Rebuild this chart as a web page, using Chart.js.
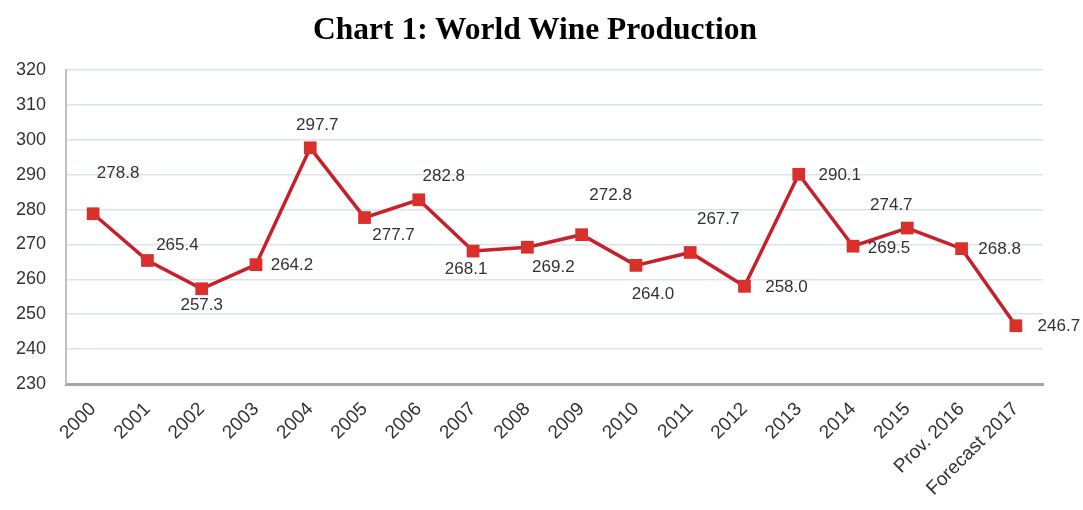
<!DOCTYPE html>
<html>
<head>
<meta charset="utf-8">
<script src="https://cdn.jsdelivr.net/npm/chart.js@4.4.0/dist/chart.umd.min.js"></script>
<style>
  html, body { margin: 0; padding: 0; background: #fff; }
  #wrap { width: 1083px; height: 510px; position: relative; }
  #title {
    position: absolute; left: 0; top: 11px; width: 1070px;
    text-align: center; line-height: 38px;
    font: bold 31.5px "Liberation Serif", "Times New Roman", serif; color: #000;
  }
</style>
</head>
<body>
<div id="wrap">
  <canvas id="wineChart"></canvas>
  <div id="title">Chart 1: World Wine Production</div>
</div>
<script>
// Datos del gráfico
const years = ['2000', '2001', '2002', '2003', '2004', '2005', '2006', '2007', '2008',
    '2009', '2010', '2011', '2012', '2013', '2014', '2015', 'Prov. 2016', 'Forecast 2017'];
const production = [278.8, 265.4, 257.3, 264.2, 297.7, 277.7, 282.8, 268.1, 269.2,
    272.8, 264.0, 267.7, 258.0, 290.1, 269.5, 274.7, 268.8, 246.7];
const yTicks = [230, 240, 250, 260, 270, 280, 290, 300, 310, 320];

// Desplazamiento de cada etiqueta respecto a su punto (px)
const labelOffsets = [
    [25, -40], [30, -15], [0, 17], [36, 1], [7, -22], [29, 18], [25, -23], [-7, 18], [26, 20],
    [29, -39], [17, 29], [28, -33], [42, 1], [41, 1], [36, 2], [-16, -23], [38, 1], [43, 1]
];

const lineColor = '#c8202a';
const markerColor = '#d9302c';
const sansFont = '"Liberation Sans", Arial, sans-serif';

// Etiquetas de valor dibujadas junto a cada punto
const valueLabels = {
    id: 'valueLabels',
    afterDatasetsDraw(chart) {
        const ctx = chart.ctx;
        const meta = chart.getDatasetMeta(0);
        ctx.save();
        ctx.font = '17px ' + sansFont;
        ctx.fillStyle = '#333';
        ctx.textAlign = 'center';
        ctx.textBaseline = 'middle';
        meta.data.forEach((pt, i) => {
            const off = labelOffsets[i] || [0, -20];
            ctx.fillText(production[i].toFixed(1), pt.x + off[0], pt.y + off[1]);
        });
        ctx.restore();
    }
};

const ctx = document.getElementById('wineChart').getContext('2d');
new Chart(ctx, {
    type: 'line',
    data: {
        labels: years,
        datasets: [{
            data: production,
            borderColor: lineColor,
            borderWidth: 3.5,
            pointStyle: 'rect',
            pointRadius: 9,
            pointBackgroundColor: markerColor,
            pointBorderColor: markerColor,
            pointBorderWidth: 0,
            tension: 0
        }]
    },
    options: {
        responsive: true,
        maintainAspectRatio: false,
        animation: false,
        layout: { padding: { top: 70, right: 40, bottom: 0, left: 0 } },
        plugins: {
            legend: { display: false },
            tooltip: { enabled: false },
            title: { display: false }
        },
        scales: {
            x: {
                offset: true,
                grid: { display: false, drawTicks: false },
                border: { color: '#a6a6a6', width: 3 },
                ticks: {
                    color: '#333',
                    font: { family: sansFont, size: 19 },
                    maxRotation: 45,
                    minRotation: 45,
                    padding: 14,
                    autoSkip: false
                },
                afterFit(scale) { scale.height = 126; }
            },
            y: {
                min: yTicks[0],
                max: yTicks[yTicks.length - 1],
                afterBuildTicks(scale) { scale.ticks = yTicks.map(v => ({ value: v })); },
                grid: { color: '#dbe3ec', lineWidth: 1.5, drawTicks: false },
                border: { color: '#c0c0c0', width: 2 },
                ticks: {
                    color: '#333',
                    font: { family: sansFont, size: 18 },
                    padding: 20
                },
                afterFit(scale) { scale.width = 66; }
            }
        }
    },
    plugins: [valueLabels]
});
</script>
</body>
</html>
